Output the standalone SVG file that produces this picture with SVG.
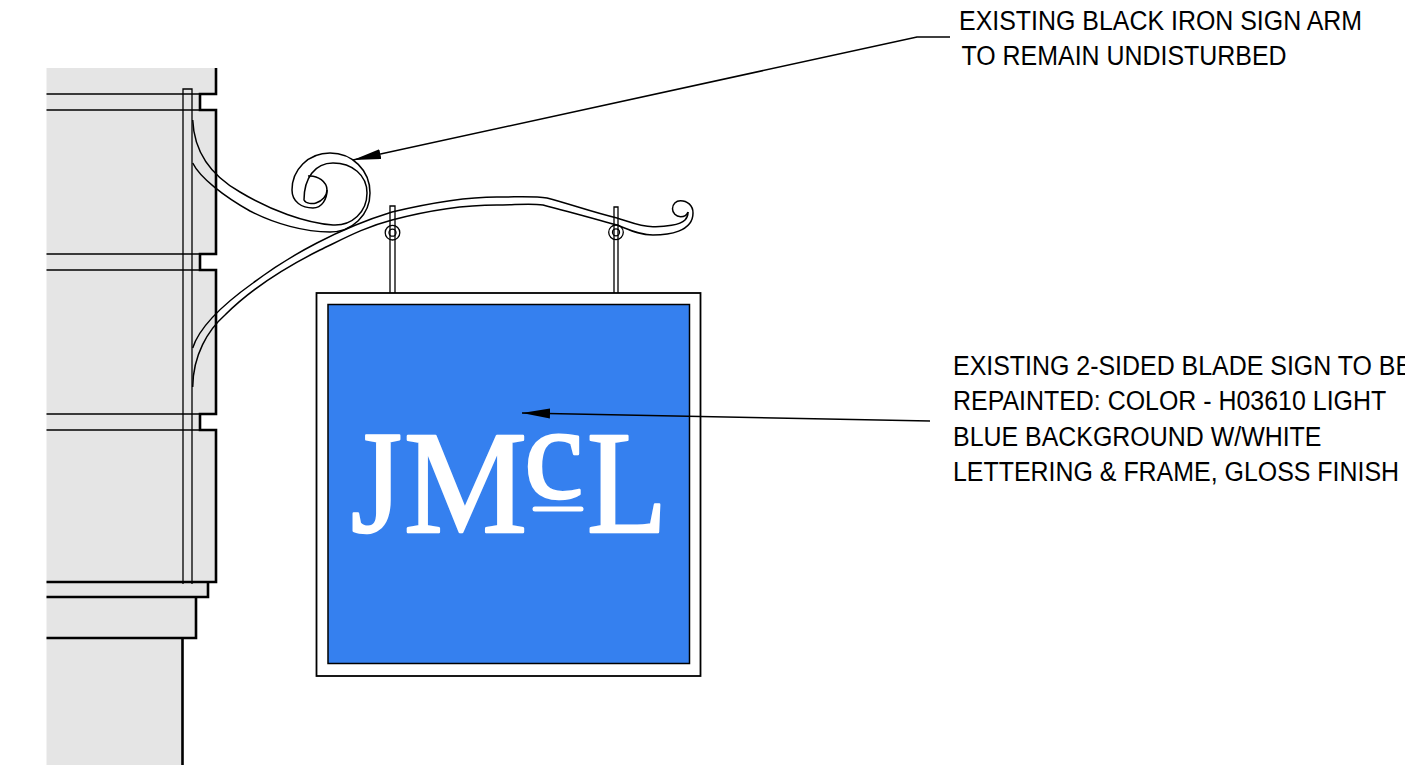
<svg xmlns="http://www.w3.org/2000/svg" width="1405" height="770" viewBox="0 0 1405 770">
<style>
.thin{fill:none;stroke:#000;stroke-width:1.3}
.thick{fill:none;stroke:#000;stroke-width:2.6}
.iron{fill:none;stroke:#000;stroke-width:1.5}
.lead{fill:none;stroke:#000;stroke-width:1.6}
.lbl{font-family:"Liberation Sans",Arial,sans-serif;font-size:28px;fill:#000}
</style>
<defs>
<marker id="ah" markerUnits="userSpaceOnUse" markerWidth="30" markerHeight="12" refX="28" refY="5" orient="auto"><path d="M0 0L28 5L0 10Z" fill="#000"/></marker>
</defs>
<rect width="1405" height="770" fill="#fff"/>
<g id="building">
<path fill="#e5e5e5" d="M46.500 68H216V94H200V110H216V254H200V270H216V414H200V430H216V582H208V597H196V638H182V765H46.500Z"/>
<path class="thin" d="M46.500 94H200M46.500 110H200M46.500 254H200M46.500 270H200M46.500 414H200M46.500 430H200"/>
<path class="thick" d="M216 68V94H200V110H216V254H200V270H216V414H200V430H216V582H46.500M216 582H208V597H46.500M208 597H196V638H46.500M182.500 638V765"/>
<path class="thin" d="M183 584V89H192V584"/>
</g>
<g id="sign-arm">
<path class="iron" d="M192.700 120C194 150 210 175 240 192C270 210 305 223 333 225C352 226 367 212 367 193C367 175 352 163 333 163C315 163 304 178 304 200C306 204 313 204 316 203C322 201 327 196 327 190"/>
<path class="iron" d="M192.700 163C200 178 225 197 250 211C275 224 305 232 330 232C352 232 370 215 370 193C370 170 352 153 330 153C308 153 292 170 292 190C292 202 302 208 313 208C322 208 327 199 327 190C327 182 318 175 308 176"/>
<path class="iron" d="M192.700 348C200 325 225 303 253 283C290 255 340 228 392 212C430 203 465 197 497 197C520 197 535 196 547 198C570 204 592 212 617 218C630 222 640 226.700 653 226.700C665 227 680 225 685 220C687 218 688 215 688 212"/>
<path class="iron" d="M192.700 387C193 355 208 330 225 315C250 290 280 270 320 250C345 238 365 227 392 220C430 210 465 205 497 205C515 205 530 203 543 205C570 212 595 219 617 225C628 229 638 235 653 235C668 235 693 232 693 213C693 205 687 200.700 680.500 200.700C676 200.700 672.500 204 672.500 208.700C672.500 213 676 216.700 680.500 216.700C684 216.700 687 215 688 212"/>
</g>
<g id="hanger-left">
<path class="thin" d="M390 293V206H395V293"/>
<circle class="thin" cx="392.500" cy="232.700" r="7.300"/>
<circle class="thin" cx="392.500" cy="232.700" r="3.500"/>
</g>
<g id="hanger-right">
<path class="thin" d="M614 293V207H618V293"/>
<circle class="thin" cx="616" cy="232.300" r="7.300"/>
<circle class="thin" cx="616" cy="232.300" r="3.500"/>
</g>
<g id="blade-sign">
<rect x="316.500" y="293" width="384" height="383" fill="#fff" stroke="#000" stroke-width="1.800"/>
<rect x="328" y="304.500" width="361.500" height="359" fill="#3580ef" stroke="#000" stroke-width="1.500"/>
<text font-family="'Liberation Serif','Times New Roman',serif" fill="#fff" stroke="#fff" stroke-width="2.600" stroke-linejoin="round" font-size="146"><tspan x="351" y="532" textLength="51" lengthAdjust="spacingAndGlyphs">J</tspan><tspan x="404" y="532" textLength="123" lengthAdjust="spacingAndGlyphs">M</tspan><tspan x="524" y="498" font-size="134">c</tspan><tspan x="587" y="532" textLength="80" lengthAdjust="spacingAndGlyphs">L</tspan></text>
<rect x="532.500" y="506.500" width="51" height="5" rx="2.500" fill="#fff"/>
</g>
<g id="connectors">
<path class="lead" d="M950 37H917L353 160" marker-end="url(#ah)"/>
<path class="lead" d="M930 421L522 413" marker-end="url(#ah)"/>
</g>
<g id="label-arm">
<text class="lbl" transform="translate(959 30) scale(.891 1)">EXISTING BLACK IRON SIGN ARM</text>
<text class="lbl" transform="translate(961.500 65) scale(.891 1)">TO REMAIN UNDISTURBED</text>
</g>
<g id="label-sign">
<text class="lbl" transform="translate(953 375) scale(.891 1)">EXISTING 2-SIDED BLADE SIGN TO BE</text>
<text class="lbl" transform="translate(953 410) scale(.891 1)">REPAINTED: COLOR - H03610 LIGHT</text>
<text class="lbl" transform="translate(953 445.500) scale(.891 1)">BLUE BACKGROUND W/WHITE</text>
<text class="lbl" transform="translate(953 481) scale(.891 1)">LETTERING &amp; FRAME, GLOSS FINISH</text>
</g>
</svg>
